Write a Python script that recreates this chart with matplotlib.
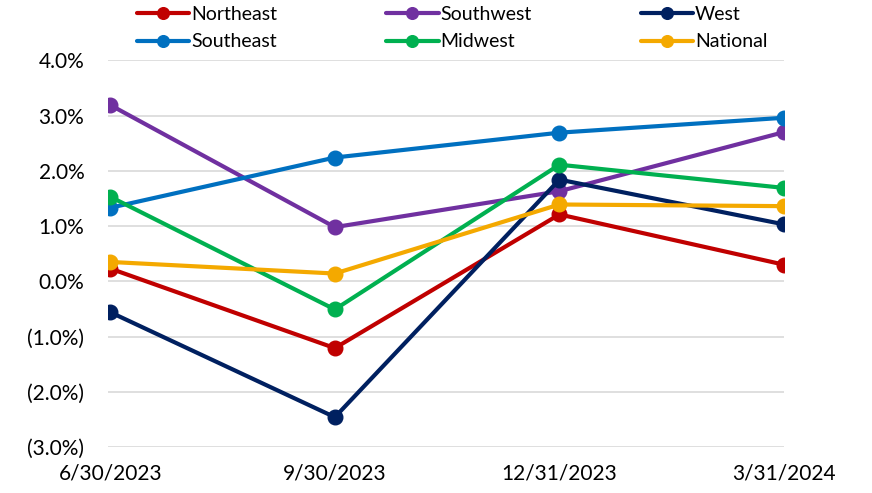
import matplotlib.pyplot as plt
from matplotlib.ticker import FuncFormatter

plt.rcParams['font.family'] = ['Lato', 'DejaVu Sans']

# 季度日期
dates = ['6/30/2023', '9/30/2023', '12/31/2023', '3/31/2024']

# 各地区数值（%）
northeast = [0.23, -1.21, 1.21, 0.30]
southwest = [3.19, 0.98, 1.63, 2.70]
west = [-0.56, -2.46, 1.84, 1.03]
southeast = [1.33, 2.24, 2.69, 2.96]
midwest = [1.53, -0.51, 2.11, 1.69]
national = [0.35, 0.14, 1.39, 1.36]

series = [
    ('Northeast', northeast, '#C00000'),
    ('Southeast', southeast, '#0070C0'),
    ('Southwest', southwest, '#7030A0'),
    ('Midwest', midwest, '#00B050'),
    ('West', west, '#002060'),
    ('National', national, '#F4A900'),
]
draw_order = ['Northeast', 'Southwest', 'West', 'Southeast', 'Midwest', 'National']

fig = plt.figure(figsize=(8.72, 4.93), dpi=100)
ax = fig.add_axes([108 / 872, 1 - 447 / 493, (784 - 108) / 872, (447 - 60.3) / 493])

x = list(range(len(dates)))
handles = {}
for name in draw_order:
    vals, col = next((v, c) for n, v, c in series if n == name)
    line, = ax.plot(x, vals, color=col, lw=3, marker='o', markersize=10.5, label=name,
                    solid_capstyle='round', zorder=3)
    handles[name] = line

ax.set_xlim(-0.01, 3)
ax.set_ylim(-3, 4)
ax.set_yticks(range(-3, 5))
ax.yaxis.set_major_formatter(FuncFormatter(lambda v, _: f'{v:.1f}%' if v >= 0 else f'({abs(v):.1f}%)'))
ax.set_xticks(x)
ax.set_xticklabels(dates)
ax.grid(axis='y', color='#D9D9D9', lw=1.2)
ax.set_axisbelow(True)
for s in ax.spines.values():
    s.set_visible(False)
ax.tick_params(length=0, labelsize=15, colors='black')
ax.tick_params(axis='y', pad=17)
ax.tick_params(axis='x', pad=12)

order = [n for n, _, _ in series]
fig.legend([handles[n] for n in order], order, ncol=3, frameon=False,
           loc='upper left', bbox_to_anchor=(125 / 872, 1.012), borderpad=0.1,
           fontsize=14, handlelength=2.7, handletextpad=0.1, columnspacing=5.6,
           labelspacing=0.55, markerscale=0.8)

fig.savefig('out.png', dpi=100)
